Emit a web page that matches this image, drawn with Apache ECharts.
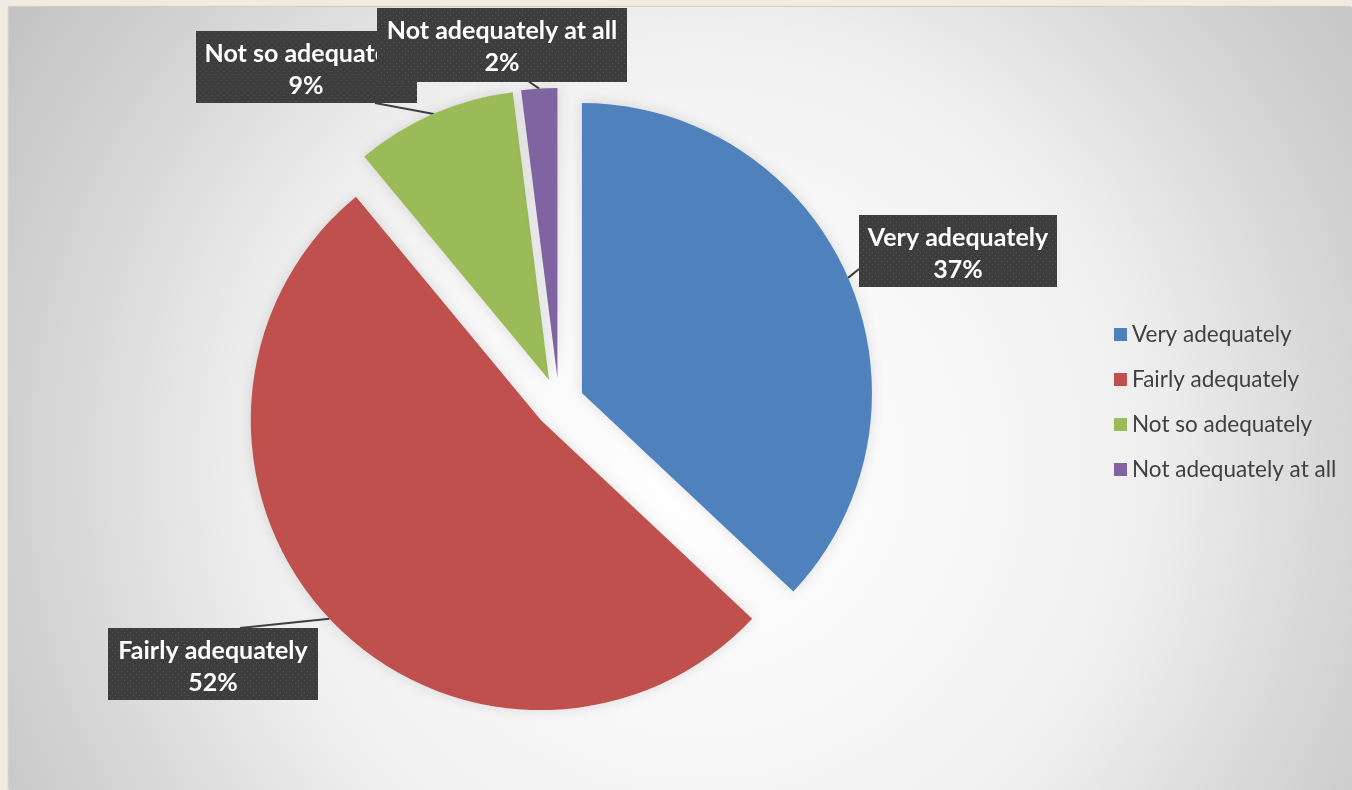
<!DOCTYPE html>
<html>
<head>
<meta charset="utf-8">
<script src="https://cdn.jsdelivr.net/npm/echarts@6/dist/echarts.min.js"></script>
<style>
  html, body { margin: 0; padding: 0; background: #EFEDE2; }
  body { width: 1352px; height: 790px; position: relative; overflow: hidden; }
  #chart {
    position: absolute; left: 9px; top: 7px; width: 1343px; height: 783px;
    box-shadow: -1px -1px 1px rgba(0,0,0,0.12);
  }
</style>
</head>
<body>
<div id="chart"></div>
<script>
// Survey answers and their shares (%)
const categories = ['Very adequately', 'Fairly adequately', 'Not so adequately', 'Not adequately at all'];
const shares = [37, 52, 9, 2];
const colors = ['#4F81BD', '#C0504D', '#9BBB59', '#8064A2'];

// Pie geometry
const pieCenter = [550, 396];
const pieRadius = 290;
const explode = 25;

// Callout boxes: centre x / top y, box size, and where the pointer meets the box
const boxes = [
  { cx: 949, top: 208, w: 198, h: 72, attach: [850, 262] },
  { cx: 204, top: 621, w: 210, h: 72, attach: [231, 621] },
  { cx: 297, top: 24,  w: 221, h: 72, attach: [366, 96] },
  { cx: 493, top: 1,   w: 250, h: 74, attach: [519, 74] }
];

// Dark dotted fill used behind the callout text
function dottedFill(w, h) {
  const c = document.createElement('canvas');
  c.width = w; c.height = h;
  const g = c.getContext('2d');
  g.fillStyle = '#3d3d3d';
  g.fillRect(0, 0, w, h);
  g.fillStyle = '#565656';
  for (let y = 1, row = 0; y < h; y += 3, row++) {
    for (let x = (row % 2) * 3 + 1; x < w; x += 6) {
      g.fillRect(x, y, 1, 1);
    }
  }
  return c;
}

const chart = echarts.init(document.getElementById('chart'), null, { renderer: 'canvas' });

const sliceData = categories.map((name, i) => ({
  name: name,
  value: shares[i],
  selected: true,
  itemStyle: { color: colors[i] }
}));

const pad = { top: 7, right: 3, bottom: 1, left: 3 };
const labelData = categories.map((name, i) => ({
  name: name,
  value: shares[i],
  label: {
    width: boxes[i].w - pad.left - pad.right,
    height: boxes[i].h - pad.top - pad.bottom,
    backgroundColor: { image: dottedFill(boxes[i].w, boxes[i].h) }
  }
}));

chart.setOption({
  animation: false,
  backgroundColor: {
    type: 'radial', x: 0.5145, y: 0.591, r: 1.061,
    colorStops: [
      { offset: 0, color: '#ffffff' },
      { offset: 0.34, color: '#f7f7f7' },
      { offset: 0.54, color: '#efefef' },
      { offset: 0.69, color: '#dfdfdf' },
      { offset: 0.84, color: '#d0d0d0' },
      { offset: 1, color: '#c3c3c3' }
    ]
  },
  legend: {
    orient: 'vertical',
    left: 1100,
    top: 311,
    icon: 'rect',
    itemWidth: 13,
    itemHeight: 13,
    itemGap: 22,
    selectedMode: false,
    textStyle: { fontFamily: 'Lato', fontSize: 22.5, color: '#404040', lineHeight: 22 },
    data: categories
  },
  series: [
    {
      // the exploded slices
      type: 'pie',
      name: 'slices',
      center: pieCenter,
      radius: pieRadius,
      startAngle: 90,
      clockwise: true,
      selectedMode: 'multiple',
      selectedOffset: explode,
      itemStyle: { shadowBlur: 14, shadowColor: 'rgba(0,0,0,0.12)' },
      select: { itemStyle: { borderWidth: 0 } },
      emphasis: { disabled: true },
      label: { show: false },
      labelLine: { show: false },
      data: sliceData
    },
    {
      // callout labels for the slices
      type: 'pie',
      name: 'callouts',
      center: pieCenter,
      radius: pieRadius,
      startAngle: 90,
      clockwise: true,
      silent: true,
      selectedMode: false,
      avoidLabelOverlap: false,
      emphasis: { disabled: true },
      itemStyle: { color: 'rgba(0,0,0,0)' },
      label: {
        show: true,
        position: 'outside',
        formatter: p => p.name + '\n' + Math.round(p.percent) + '%',
        fontFamily: 'Lato',
        fontWeight: 'bold',
        fontSize: 25,
        lineHeight: 32,
        color: '#ffffff',
        align: 'center',
        verticalAlign: 'top',
        overflow: 'none',
        padding: [pad.top, pad.right, pad.bottom, pad.left],
        shadowBlur: 5,
        shadowColor: 'rgba(0,0,0,0.45)',
        shadowOffsetX: 3,
        shadowOffsetY: 3
      },
      labelLine: {
        show: true,
        length: 10,
        length2: 10,
        lineStyle: { color: '#404040', width: 2 }
      },
      labelLayout: function (params) {
        const b = boxes[params.dataIndex];
        let p0 = params.labelLinePoints && params.labelLinePoints[0];
        if (p0) {
          // push the start point out with the exploded slice
          const dx = p0[0] - pieCenter[0], dy = p0[1] - pieCenter[1];
          const len = Math.sqrt(dx * dx + dy * dy) || 1;
          p0 = [p0[0] + dx / len * explode, p0[1] + dy / len * explode];
        } else {
          p0 = b.attach;
        }
        return {
          x: b.cx,
          y: b.top,
          align: 'center',
          verticalAlign: 'top',
          labelLinePoints: [p0, b.attach, b.attach]
        };
      },
      data: labelData
    }
  ]
});
</script>
</body>
</html>
